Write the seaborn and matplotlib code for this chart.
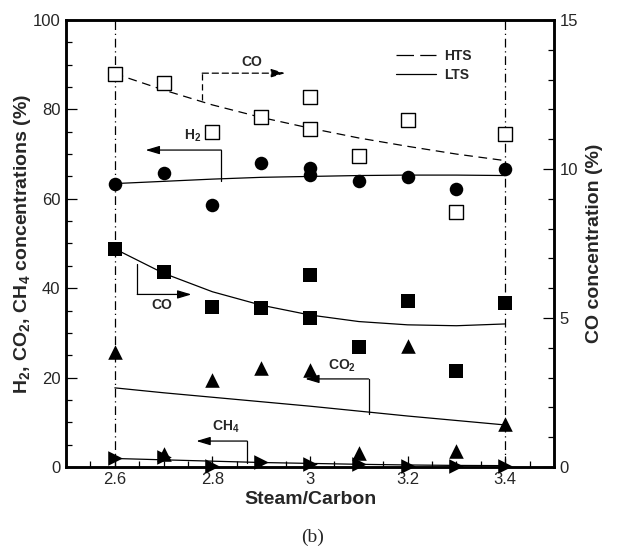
import matplotlib
matplotlib.use("Agg")
import matplotlib.pyplot as plt
import seaborn as sns
import pandas as pd
from matplotlib.ticker import MultipleLocator, FormatStrFormatter
from matplotlib.lines import Line2D

# ---------------- data ----------------
# measured points (two measurements at S/C = 3.0 for some species)
sc_pts = [2.6, 2.7, 2.8, 2.9, 3.0, 3.0, 3.1, 3.2, 3.3, 3.4]
co_hts = [13.2, 12.9, 11.25, 11.76, 12.4, 11.34, 10.44, 11.64, 8.57, 11.19]   # right axis
h2 = [63.3, 65.7, 58.7, 67.9, 66.8, 65.3, 64.0, 64.9, 62.3, 66.7]
co_lts = [7.31, 6.55, 5.38, 5.35, 6.44, 5.01, 4.04, 5.58, 3.23, 5.49]          # right axis

sc_pts9 = [2.6, 2.7, 2.8, 2.9, 3.0, 3.1, 3.2, 3.3, 3.4]
co2 = [25.7, 2.8, 19.5, 22.1, 21.7, 3.2, 27.1, 3.6, 9.6]
ch4 = [1.9, 2.3, 0.3, 1.2, 0.7, 0.7, 0.3, 0.3, 0.3]

# fitted curves
sc_fit = [2.6, 2.7, 2.8, 2.9, 3.0, 3.1, 3.2, 3.3, 3.4]
co_hts_fit = [13.2, 12.65, 12.15, 11.73, 11.37, 11.04, 10.76, 10.5, 10.28]
h2_fit = [63.4, 63.9, 64.4, 64.8, 65.0, 65.2, 65.3, 65.3, 65.2]
co_lts_fit = [7.32, 6.5, 5.88, 5.43, 5.1, 4.88, 4.77, 4.74, 4.8]
co2_fit = [17.7, 16.6, 15.6, 14.6, 13.6, 12.5, 11.4, 10.4, 9.4]
ch4_fit = [1.9, 1.6, 1.3, 1.0, 0.8, 0.6, 0.45, 0.35, 0.3]

x_ticks = [2.6, 2.8, 3.0, 3.2, 3.4]
y_left_ticks = [0, 20, 40, 60, 80, 100]
y_right_ticks = [0, 5, 10, 15]

# ---------------- style ----------------
sns.set_style("ticks")
plt.rcParams["font.family"] = ["Liberation Sans", "DejaVu Sans"]
plt.rcParams["mathtext.fontset"] = "custom"
plt.rcParams["mathtext.rm"] = "Liberation Sans"
plt.rcParams["mathtext.bf"] = "Liberation Sans:bold"

fig, ax = plt.subplots(figsize=(6.17, 5.49), dpi=100)
fig.subplots_adjust(left=0.107, right=0.898, top=0.9636, bottom=0.1494)
ax2 = ax.twinx()

K = "black"
LW = 0.9
dash = (0, (7, 4.5))
dashdot = (0, (7, 3, 1, 3))

# reference vertical lines
for xv in (2.6, 3.4):
    ax.axvline(xv, color=K, lw=LW, linestyle=dashdot, zorder=1)

# left-axis fits
for yy in (h2_fit, co2_fit, ch4_fit):
    sns.lineplot(x=sc_fit, y=yy, ax=ax, color=K, lw=LW, estimator=None, sort=False)

# left-axis points
sns.scatterplot(x=sc_pts, y=h2, ax=ax, marker="o", s=95, color=K, edgecolor=K, linewidth=0, clip_on=False, zorder=5)
sns.scatterplot(x=sc_pts9, y=co2, ax=ax, marker="^", s=110, color=K, edgecolor=K, linewidth=0, clip_on=False, zorder=5)
sns.scatterplot(x=sc_pts9, y=ch4, ax=ax, marker=">", s=110, color=K, edgecolor=K, linewidth=0, clip_on=False, zorder=5)

# right-axis fits
sns.lineplot(x=sc_fit, y=co_hts_fit, ax=ax2, color=K, lw=LW, linestyle=dash, estimator=None, sort=False)
sns.lineplot(x=sc_fit, y=co_lts_fit, ax=ax2, color=K, lw=LW, estimator=None, sort=False)

# right-axis points
sns.scatterplot(x=sc_pts, y=co_hts, ax=ax2, marker="s", s=90, color="white", edgecolor=K, linewidth=1.0, clip_on=False, zorder=5)
sns.scatterplot(x=sc_pts, y=co_lts, ax=ax2, marker="s", s=90, color=K, edgecolor=K, linewidth=0, clip_on=False, zorder=5)

# ---------------- axes ----------------
ax.set_xlim(2.5, 3.5)
ax.set_ylim(0, 100)
ax2.set_ylim(0, 15)
ax.set_xticks(x_ticks)
ax.set_yticks(y_left_ticks)
ax2.set_yticks(y_right_ticks)
ax.xaxis.set_minor_locator(MultipleLocator(0.05))
ax.yaxis.set_minor_locator(MultipleLocator(5))
ax2.yaxis.set_minor_locator(MultipleLocator(1))
ax.xaxis.set_major_formatter(FormatStrFormatter("%g"))

for a in (ax, ax2):
    for sp in a.spines.values():
        sp.set_linewidth(1.8)
        sp.set_color(K)
    a.tick_params(which="major", direction="in", length=8, width=0.9, labelsize=12, color=K)
    a.tick_params(which="minor", direction="in", length=4.5, width=0.9, color=K)
ax.tick_params(axis="x", which="both", top=False, pad=3.5)
ax.tick_params(axis="y", which="both", right=False, pad=4)
ax2.tick_params(axis="y", which="both", left=False, pad=4)

ax.set_xlabel("Steam/Carbon", fontsize=14, fontweight="bold", labelpad=3)
ax.set_ylabel(r"H$_\mathbf{2}$, CO$_\mathbf{2}$, CH$_\mathbf{4}$ concentrations (%)",
              fontsize=14, fontweight="bold", labelpad=0)
ax2.set_ylabel("CO concentration (%)", fontsize=14, fontweight="bold", labelpad=6)

# ---------------- annotations ----------------
ap = dict(arrowstyle="-|>,head_length=0.6,head_width=0.18", color=K, lw=LW,
          mutation_scale=14, shrinkA=0, shrinkB=0)
ap_dash = dict(ap, linestyle=(0, (5, 3)))
tfs = 10

# CO (HTS) -> right axis
ax.plot([2.779, 2.779], [82.1, 88.1], color=K, lw=LW, linestyle=(0, (5, 3)))
ax.annotate("", xy=(2.949, 88.1), xytext=(2.779, 88.1), arrowprops=ap_dash)
ax.text(2.88, 90.5, "CO", fontsize=tfs, fontweight="bold", ha="center", va="center")

# H2 -> left axis
ax.plot([2.818, 2.818], [63.9, 70.9], color=K, lw=LW)
ax.annotate("", xy=(2.663, 70.9), xytext=(2.818, 70.9), arrowprops=ap)
ax.text(2.759, 74.0, r"H$_\mathbf{2}$", fontsize=tfs, fontweight="bold", ha="center", va="center")

# CO (LTS) -> right axis
ax.plot([2.646, 2.646], [45.4, 38.6], color=K, lw=LW)
ax.annotate("", xy=(2.757, 38.6), xytext=(2.646, 38.6), arrowprops=ap)
ax.text(2.697, 36.3, "CO", fontsize=tfs, fontweight="bold", ha="center", va="center")

# CO2 -> left axis
ax.plot([3.120, 3.120], [11.9, 19.7], color=K, lw=LW)
ax.annotate("", xy=(2.99, 19.7), xytext=(3.120, 19.7), arrowprops=ap)
ax.text(3.065, 22.7, r"CO$_\mathbf{2}$", fontsize=tfs, fontweight="bold", ha="center", va="center")

# CH4 -> left axis
ax.plot([2.871, 2.871], [1.0, 5.8], color=K, lw=LW)
ax.annotate("", xy=(2.767, 5.8), xytext=(2.871, 5.8), arrowprops=ap)
ax.text(2.8265, 9.0, r"CH$_\mathbf{4}$", fontsize=tfs, fontweight="bold", ha="center", va="center")

# legend
handles = [Line2D([], [], color=K, lw=LW, linestyle=(0, (14, 5))),
           Line2D([], [], color=K, lw=LW)]
ax.legend(handles, ["HTS", "LTS"], loc="upper left", bbox_to_anchor=(0.676, 0.935),
          frameon=False, handlelength=2.9, handletextpad=0.6, labelspacing=0.35,
          borderaxespad=0, borderpad=0, prop=dict(weight="bold", size=10))

fig.text(0.506, 1 - 537 / 549, "(b)", family="Liberation Serif", fontsize=14,
         ha="center", va="center")

fig.savefig("out.png", dpi=100)
